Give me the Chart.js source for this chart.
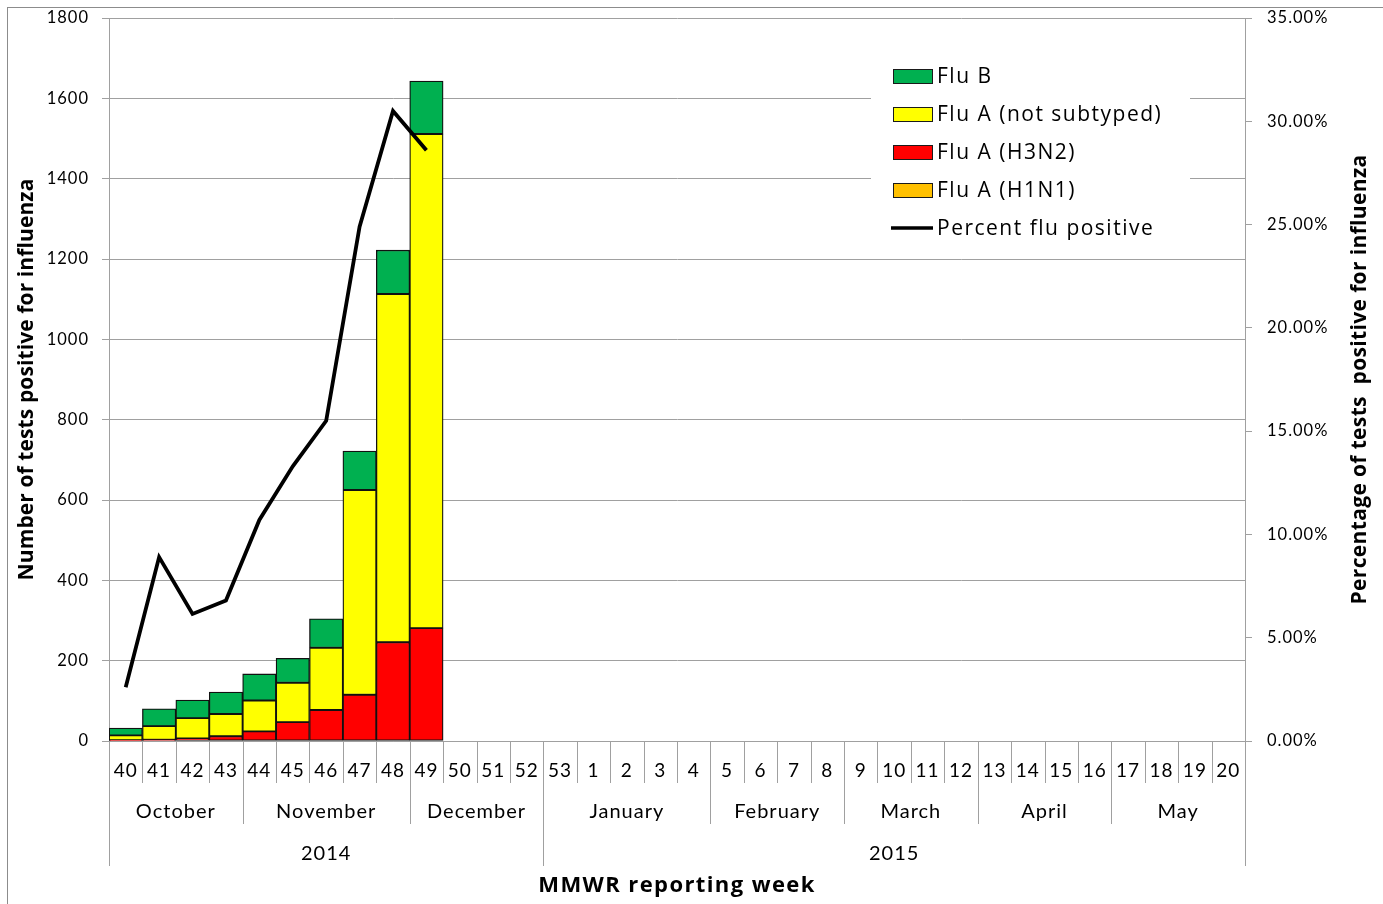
<!DOCTYPE html>
<html>
<head>
<meta charset="utf-8">
<script src="https://cdn.jsdelivr.net/npm/chart.js@4.4.1/dist/chart.umd.min.js"></script>
<style>
  html, body { margin: 0; padding: 0; background: #fff; overflow: hidden; }
</style>
</head>
<body>
<canvas id="chart" width="1383" height="904"></canvas>
<script>
// MMWR weeks, 2014-15 season
const weeks = ['40','41','42','43','44','45','46','47','48','49','50','51','52','53',
  '1','2','3','4','5','6','7','8','9','10','11','12','13','14','15','16','17','18','19','20'];
const months = ['October','November','December','January','February','March','April','May'];
const monthSpans = [4, 5, 4, 5, 4, 4, 4, 4];
const years = ['2014', '2015'];
const yearSpans = [13, 21];

// counts of positive tests (weeks 40-49)
const fluAH1N1 = [];
const fluAH3N2 = [2, 3, 6, 12, 24, 47, 77, 115, 246, 281];
const fluANotSubtyped = [12, 34, 51, 55, 77, 98, 155, 510, 867, 1230];
const fluB = [18, 43, 45, 55, 66, 61, 72, 97, 109, 132];
// percent positive
const pctPositive = [2.6, 8.9, 6.15, 6.8, 10.7, 13.3, 15.5, 24.9, 30.5, 28.6];

const GRID = '#a0a0a0';
const FONT = 'Lato';
const TITLE_FONT = '"Open Sans"';
Chart.defaults.font.family = FONT;
Chart.defaults.color = '#000';

function barSet(label, data, color) {
  return {
    type: 'bar', label, data, backgroundColor: color,
    borderColor: '#111', borderWidth: 1.3, borderSkipped: false,
    categoryPercentage: 1, barPercentage: 1, order: 1, yAxisID: 'y'
  };
}

function text(ctx, str, x, y, font, spacing, angle) {
  ctx.save();
  ctx.font = font;
  ctx.letterSpacing = spacing + 'px';
  ctx.translate(x, y);
  if (angle) ctx.rotate(angle);
  ctx.fillText(str, 0, 0);
  ctx.restore();
}

// multi-level category axis, month/year groups, titles, legend, border
const decor = {
  id: 'decor',
  beforeDraw(chart) {
    chart.ctx.letterSpacing = '1px';
  },
  afterDraw(chart) {
    const ctx = chart.ctx;
    const x = chart.scales.x;
    const area = chart.chartArea;
    const top = area.bottom;
    const edge = i => x.getPixelForValue(i - 0.5);
    ctx.save();
    ctx.strokeStyle = GRID;
    ctx.lineWidth = 1;
    // week separators
    for (let i = 0; i <= weeks.length; i++) {
      const px = Math.round(edge(i)) + 0.5;
      ctx.beginPath(); ctx.moveTo(px, top); ctx.lineTo(px, top + 42); ctx.stroke();
    }
    ctx.fillStyle = '#000';
    ctx.textAlign = 'center';
    ctx.textBaseline = 'middle';
    let start = 0;
    months.forEach((m, k) => {
      const end = start + monthSpans[k];
      const px = Math.round(edge(start)) + 0.5;
      ctx.beginPath(); ctx.moveTo(px, top); ctx.lineTo(px, top + 83); ctx.stroke();
      text(ctx, m, (edge(start) + edge(end)) / 2, top + 71, '20px ' + FONT, 1);
      start = end;
    });
    start = 0;
    years.forEach((y, k) => {
      const end = start + yearSpans[k];
      const px = Math.round(edge(start)) + 0.5;
      ctx.beginPath(); ctx.moveTo(px, top); ctx.lineTo(px, top + 125); ctx.stroke();
      text(ctx, y, (edge(start) + edge(end)) / 2, top + 113, '20px ' + FONT, 1);
      start = end;
    });
    const pxEnd = Math.round(edge(weeks.length)) + 0.5;
    ctx.beginPath(); ctx.moveTo(pxEnd, top); ctx.lineTo(pxEnd, top + 125); ctx.stroke();

    // axis titles
    const midY = (area.top + area.bottom) / 2;
    const midX = (area.left + area.right) / 2;
    const bold = 'bold 21px ' + TITLE_FONT;
    text(ctx, 'Number of tests positive for influenza', 27, midY, bold, 0.1, -Math.PI / 2);
    text(ctx, 'Percentage of tests  positive for influenza', 1360, midY, bold, 0.35, -Math.PI / 2);
    text(ctx, 'MMWR reporting week', midX, 886, 'bold 22px ' + TITLE_FONT, 1.4);

    // legend
    ctx.fillStyle = '#fff';
    ctx.fillRect(871, 56, 319, 192);
    const items = [3, 2, 1, 0, 4].map(i => chart.data.datasets[i]);
    ctx.textAlign = 'left';
    items.forEach((ds, k) => {
      const cy = 76 + k * 38;
      if (ds.type === 'line') {
        ctx.strokeStyle = ds.borderColor; ctx.lineWidth = 3.5;
        ctx.beginPath(); ctx.moveTo(891, cy); ctx.lineTo(933, cy); ctx.stroke();
      } else {
        ctx.fillStyle = ds.backgroundColor;
        ctx.fillRect(893, cy - 7, 39, 14);
        ctx.strokeStyle = '#1a1a1a'; ctx.lineWidth = 1;
        ctx.strokeRect(893.5, cy - 6.5, 39, 14);
      }
      ctx.fillStyle = '#000';
      text(ctx, ds.label, 937, cy + 1, '21px ' + TITLE_FONT, 1.5);
    });

    // chart border
    ctx.strokeStyle = '#8c8c8c';
    ctx.lineWidth = 1;
    ctx.strokeRect(7.5, 7.5, 1400, 920);
    ctx.restore();
    ctx.letterSpacing = '0px';
  }
};

new Chart(document.getElementById('chart'), {
  data: {
    labels: weeks,
    datasets: [
      barSet('Flu A (H1N1)', fluAH1N1, '#FFC000'),
      barSet('Flu A (H3N2)', fluAH3N2, '#FF0000'),
      barSet('Flu A (not subtyped)', fluANotSubtyped, '#FFFF00'),
      barSet('Flu B', fluB, '#00B050'),
      {
        type: 'line', label: 'Percent flu positive', data: pctPositive,
        borderColor: '#000', borderWidth: 3.8, pointRadius: 0, tension: 0,
        yAxisID: 'y1', order: 0
      }
    ]
  },
  options: {
    responsive: false,
    animation: false,
    layout: { padding: { top: 18, left: 0, right: 0, bottom: 0 } },
    plugins: { legend: { display: false }, tooltip: { enabled: false } },
    scales: {
      x: {
        stacked: true,
        offset: true,
        grid: { display: false, drawTicks: false },
        border: { display: true, color: GRID, width: 1 },
        ticks: { padding: 18, maxRotation: 0, autoSkip: false, font: { size: 19 } },
        afterFit(s) { s.height = 163; s.paddingLeft = 0; s.paddingRight = 0; }
      },
      y: {
        stacked: true, min: 0, max: 1800,
        ticks: { stepSize: 200, padding: 13, font: { size: 16.5 }, callback: v => String(v) },
        grid: { color: GRID, lineWidth: 1, tickLength: 7 },
        border: { display: true, color: GRID, width: 1 },
        afterFit(s) { s.width = 109; s.paddingTop = 0; s.paddingBottom = 0; }
      },
      y1: {
        position: 'right', min: 0, max: 35,
        ticks: { stepSize: 5, padding: 15, font: { size: 16.5 }, callback: v => v.toFixed(2) + '%' },
        grid: { drawOnChartArea: false, color: GRID, tickLength: 7 },
        border: { display: true, color: GRID, width: 1 },
        afterFit(s) { s.width = 138; s.paddingTop = 0; s.paddingBottom = 0; }
      }
    }
  },
  plugins: [decor]
});
</script>
</body>
</html>
